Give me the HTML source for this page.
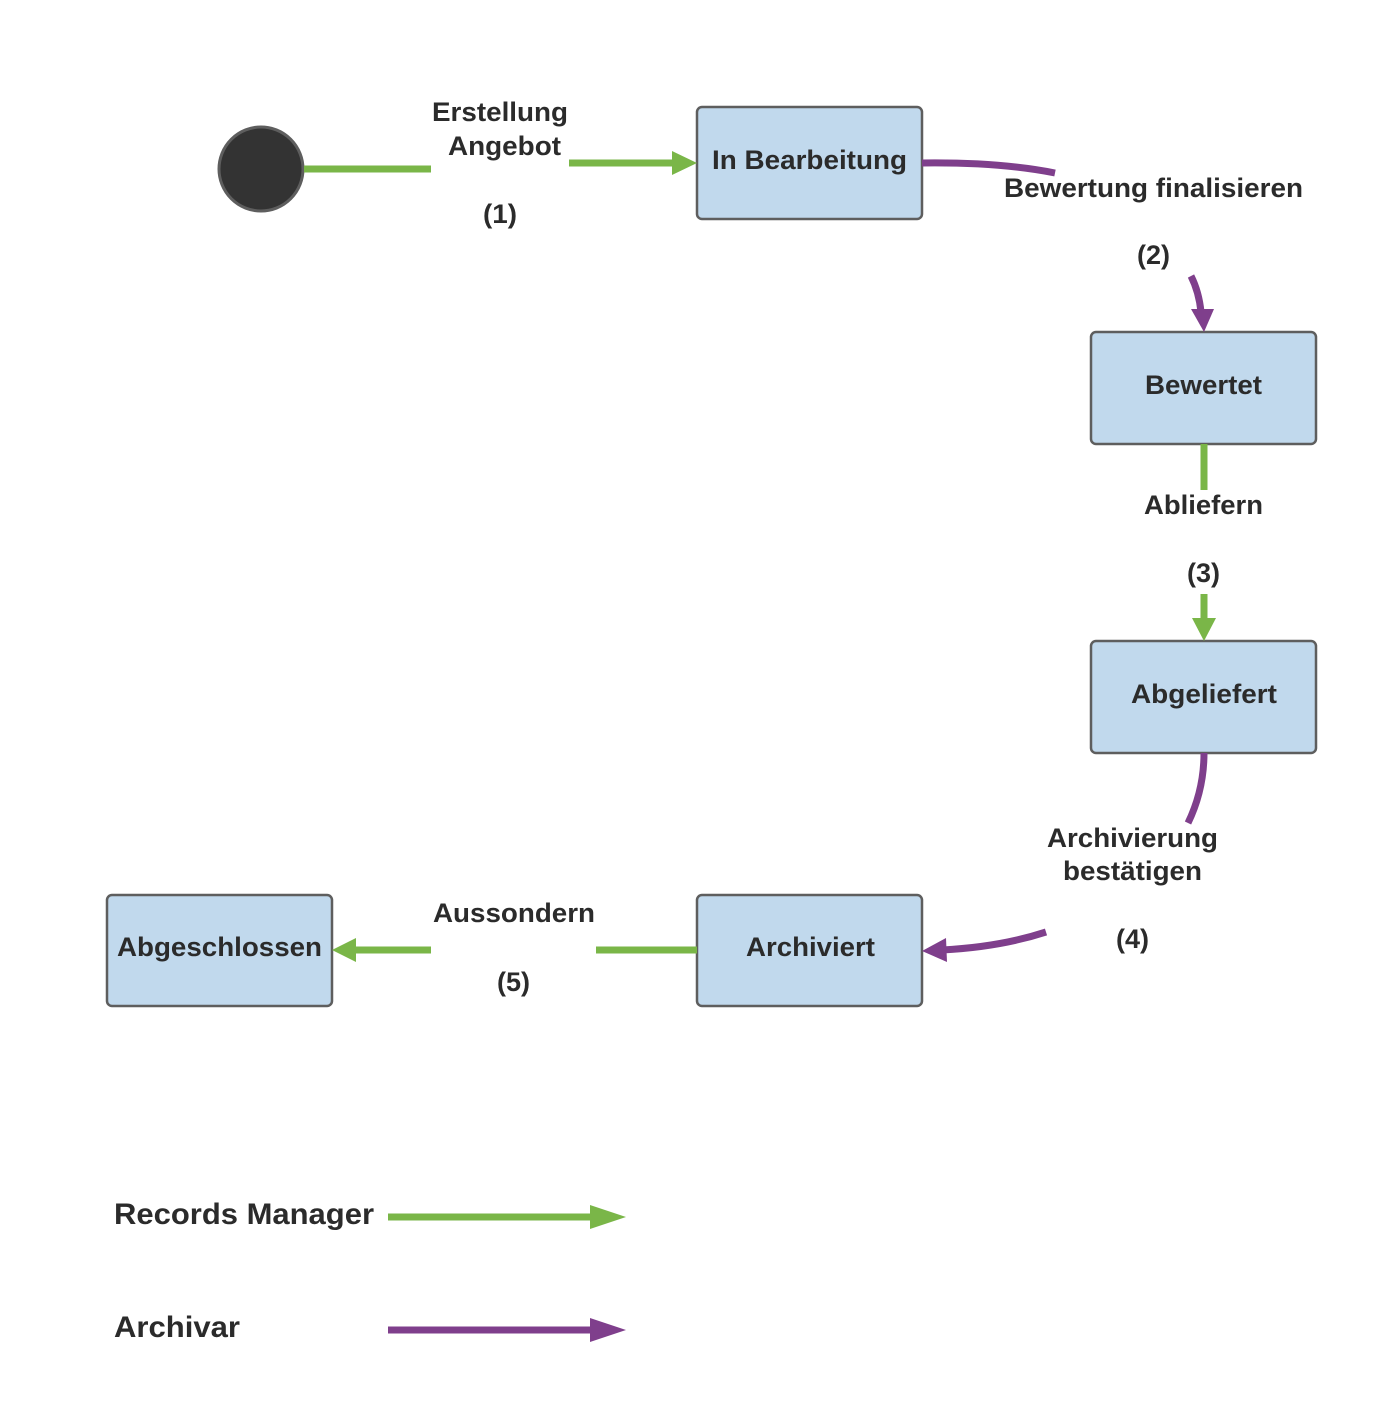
<!DOCTYPE html>
<html><head><meta charset="utf-8"><style>
html,body{margin:0;padding:0;background:#fff;}
svg text{font-family:"Liberation Sans",sans-serif;font-weight:bold;fill:#2b2b2b;}
</style></head><body>
<svg width="1374" height="1407" viewBox="0 0 1374 1407" xmlns="http://www.w3.org/2000/svg">
<rect width="1374" height="1407" fill="#fff"/>
<g fill="#c1d9ed" stroke="#5e5e5e" stroke-width="2.5">
<rect x="697" y="107" width="225" height="112" rx="5"/>
<rect x="1091" y="332" width="225" height="112" rx="5"/>
<rect x="1091" y="641" width="225" height="112" rx="5"/>
<rect x="697" y="895" width="225" height="111" rx="5"/>
<rect x="107" y="895" width="225" height="111" rx="5"/>
</g>
<circle cx="261" cy="169" r="42" fill="#333" stroke="#5e5e5e" stroke-width="3"/>
<g stroke-width="7" fill="none">
<line x1="304" y1="169" x2="431" y2="169" stroke="#7ab648"/>
<line x1="569" y1="163" x2="676" y2="163" stroke="#7ab648"/>
<path d="M922 163 Q1000 162 1055 173" stroke="#7f3f8c"/>
<path d="M1191 276 Q1199 292 1201 312" stroke="#7f3f8c"/>
<line x1="1204" y1="444" x2="1204" y2="490" stroke="#7ab648"/>
<line x1="1204" y1="594" x2="1204" y2="620" stroke="#7ab648"/>
<path d="M1204 753 Q1204 790 1188 823" stroke="#7f3f8c"/>
<path d="M1046 932 Q1000 947 942 950" stroke="#7f3f8c"/>
<line x1="697" y1="950" x2="596" y2="950" stroke="#7ab648"/>
<line x1="431" y1="950" x2="352" y2="950" stroke="#7ab648"/>
<line x1="388" y1="1217" x2="600" y2="1217" stroke="#7ab648"/>
<line x1="388" y1="1330" x2="600" y2="1330" stroke="#7f3f8c"/>
</g>
<polygon points="672,151 697,163 672,175" fill="#7ab648"/>
<polygon points="1191,309 1214,309 1204,332" fill="#7f3f8c"/>
<polygon points="1192,618 1216,618 1204,641" fill="#7ab648"/>
<polygon points="946,938 922,951 947,962" fill="#7f3f8c"/>
<polygon points="356,938 332,950 356,962" fill="#7ab648"/>
<polygon points="590,1205 626,1217 590,1229" fill="#7ab648"/>
<polygon points="590,1318 626,1330 590,1342" fill="#7f3f8c"/>
<g font-size="27" lengthAdjust="spacingAndGlyphs">
<text x="712" y="169" textLength="195" lengthAdjust="spacingAndGlyphs">In Bearbeitung</text>
<text x="1145" y="394" textLength="117" lengthAdjust="spacingAndGlyphs">Bewertet</text>
<text x="1131" y="703" textLength="146" lengthAdjust="spacingAndGlyphs">Abgeliefert</text>
<text x="746" y="956" textLength="129" lengthAdjust="spacingAndGlyphs">Archiviert</text>
<text x="117" y="956" textLength="205" lengthAdjust="spacingAndGlyphs">Abgeschlossen</text>
<text x="432" y="121" textLength="136" lengthAdjust="spacingAndGlyphs">Erstellung</text>
<text x="448" y="155" textLength="113" lengthAdjust="spacingAndGlyphs">Angebot</text>
<text x="483" y="223" textLength="34" lengthAdjust="spacingAndGlyphs">(1)</text>
<text x="1004" y="197" textLength="299" lengthAdjust="spacingAndGlyphs">Bewertung finalisieren</text>
<text x="1137" y="264" textLength="33" lengthAdjust="spacingAndGlyphs">(2)</text>
<text x="1144" y="514" textLength="119" lengthAdjust="spacingAndGlyphs">Abliefern</text>
<text x="1187" y="582" textLength="33" lengthAdjust="spacingAndGlyphs">(3)</text>
<text x="1047" y="847" textLength="171" lengthAdjust="spacingAndGlyphs">Archivierung</text>
<text x="1063" y="880" textLength="139" lengthAdjust="spacingAndGlyphs">bestätigen</text>
<text x="1116" y="948" textLength="33" lengthAdjust="spacingAndGlyphs">(4)</text>
<text x="433" y="922" textLength="162" lengthAdjust="spacingAndGlyphs">Aussondern</text>
<text x="497" y="991" textLength="33" lengthAdjust="spacingAndGlyphs">(5)</text>
</g>
<g font-size="30">
<text x="114" y="1224" textLength="260" lengthAdjust="spacingAndGlyphs">Records Manager</text>
<text x="114" y="1337" textLength="126" lengthAdjust="spacingAndGlyphs">Archivar</text>
</g>
</svg>
</body></html>
